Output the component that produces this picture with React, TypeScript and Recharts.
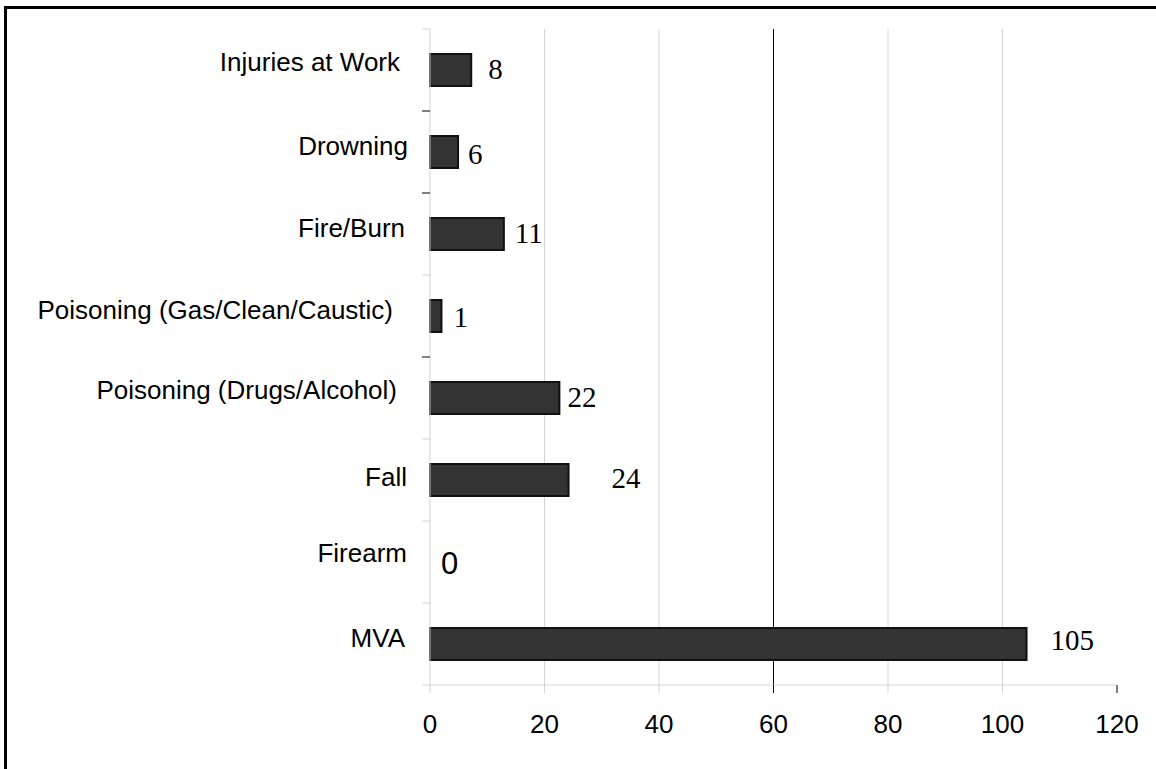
import React from 'react'
import { BarChart, Bar, XAxis, YAxis, CartesianGrid, LabelList, Rectangle } from 'recharts'

// categories top to bottom
const categories = [
  'Injuries at Work',
  'Drowning',
  'Fire/Burn',
  'Poisoning (Gas/Clean/Caustic)',
  'Poisoning (Drugs/Alcohol)',
  'Fall',
  'Firearm',
  'MVA',
]

// bar lengths as drawn
const barValues = [7.2, 4.9, 12.9, 2.0, 22.6, 24.2, 0, 104.2]

// printed labels next to the bars
const valueLabels = ['8', '6', '11', '1', '22', '24', '0', '105']

const xTicks = [0, 20, 40, 60, 80, 100, 120]
const xMax = 120
const gridValues = [20, 40, 80, 100]
const darkGridValues = [60]

const data = categories.map((name, i) => ({ name, value: barValues[i], label: valueLabels[i] }))

const SANS = '"Liberation Sans", Arial, sans-serif'
const SERIF = '"Liberation Serif", "Times New Roman", serif'
const GRID = '#d4d4d4'

// hand placement of the labels, like in the original sheet
const labelGap = [17, 10, 11, 12, 8, 43, 11, 24]
const labelDy = [-1, 2, -1, 1, -1, -2, 1, -4]
const catRight = [400, 408, 405, 393, 397, 407, 407, 405]
const catDy = [-8, -6, -6, -6, -8, -3, -9, -6]
const boundaryColor = [GRID, '#000', '#000', GRID, '#000', GRID, GRID, GRID, GRID]

const gridAt = (values: number[]) => (props: any) => {
  const scale = props && props.xAxis ? props.xAxis.scale : undefined
  const off = (props && props.offset) || {}
  return values.map((v) => {
    if (typeof scale === 'function') return scale(v)
    if (scale && typeof scale.map === 'function') return scale.map(v)
    return off.left + (v / xMax) * off.width
  })
}

const CategoryTick = ({ x, y, payload, index }: any) => {
  const half = payload && payload.offset ? payload.offset : 41
  const i = index ?? 0
  return (
    <g>
      <line x1={x - 8} x2={x} y1={y - half} y2={y - half} stroke={boundaryColor[i]} strokeWidth={1} />
      {i === categories.length - 1 && (
        <line x1={x - 8} x2={x} y1={y + half} y2={y + half} stroke={boundaryColor[i + 1]} strokeWidth={1} />
      )}
      <text x={catRight[i]} y={y + catDy[i] + 9} textAnchor="end" fontFamily={SANS} fontSize={26} fill="#000">
        {payload.value}
      </text>
    </g>
  )
}

const ValueTick = ({ x, y, payload }: any) => {
  const dark = darkGridValues.includes(payload.value) || payload.value === xMax
  return (
    <g>
      <line x1={x} x2={x} y1={y} y2={y + 8} stroke={dark ? '#000' : GRID} strokeWidth={1} />
      <text x={x} y={y + 48} textAnchor="middle" fontFamily={SANS} fontSize={26} fill="#000">
        {payload.value}
      </text>
    </g>
  )
}

const BarShape = (props: any) => {
  const v = props.payload ? props.payload.value : props.value
  if (!v) return null
  return <Rectangle {...props} />
}

const ValueLabel = (props: any) => {
  const { x, y, width, height, value } = props
  const i = valueLabels.indexOf(String(value))
  if (i < 0) return null
  const isZero = barValues[i] === 0
  const tx = x + (isZero ? 0 : width) + labelGap[i]
  const cy = y + height / 2 + labelDy[i]
  return (
    <text
      x={tx}
      y={cy + (isZero ? 11 : 10)}
      fontFamily={isZero ? SANS : SERIF}
      fontSize={isZero ? 31 : 29}
      fill="#000"
    >
      {valueLabels[i]}
    </text>
  )
}

export default function App() {
  return (
    <div style={{ position: 'absolute', left: 0, top: 0, width: 1156, height: 769, background: '#fff' }}>
      <div style={{ position: 'absolute', left: 4, top: 6, width: 1152, height: 3, background: '#000' }} />
      <div style={{ position: 'absolute', left: 4, top: 6, width: 3, height: 763, background: '#000' }} />
      <div style={{ position: 'absolute', left: 0, top: 0 }}>
        <BarChart
          width={1156}
          height={769}
          data={data}
          layout="vertical"
          margin={{ top: 29, right: 39, left: 0, bottom: 0 }}
          barCategoryGap={0}
        >
          <CartesianGrid horizontal={false} stroke={GRID} verticalCoordinatesGenerator={gridAt(gridValues)} />
          <CartesianGrid horizontal={false} stroke="#000" verticalCoordinatesGenerator={gridAt(darkGridValues)} />
          <XAxis
            type="number"
            domain={[0, xMax]}
            ticks={xTicks}
            interval={0}
            height={84}
            axisLine={{ stroke: GRID }}
            tickLine={false}
            tickSize={0}
            tickMargin={0}
            tick={<ValueTick />}
          />
          <YAxis
            type="category"
            dataKey="name"
            width={430}
            interval={0}
            axisLine={{ stroke: GRID }}
            tickLine={false}
            tickSize={0}
            tickMargin={0}
            tick={<CategoryTick />}
          />
          <Bar
            dataKey="value"
            barSize={32}
            fill="#333333"
            stroke="#111"
            strokeWidth={2}
            minPointSize={1}
            shape={<BarShape />}
            isAnimationActive={false}
          >
            <LabelList dataKey="label" content={<ValueLabel />} />
          </Bar>
        </BarChart>
      </div>
    </div>
  )
}
